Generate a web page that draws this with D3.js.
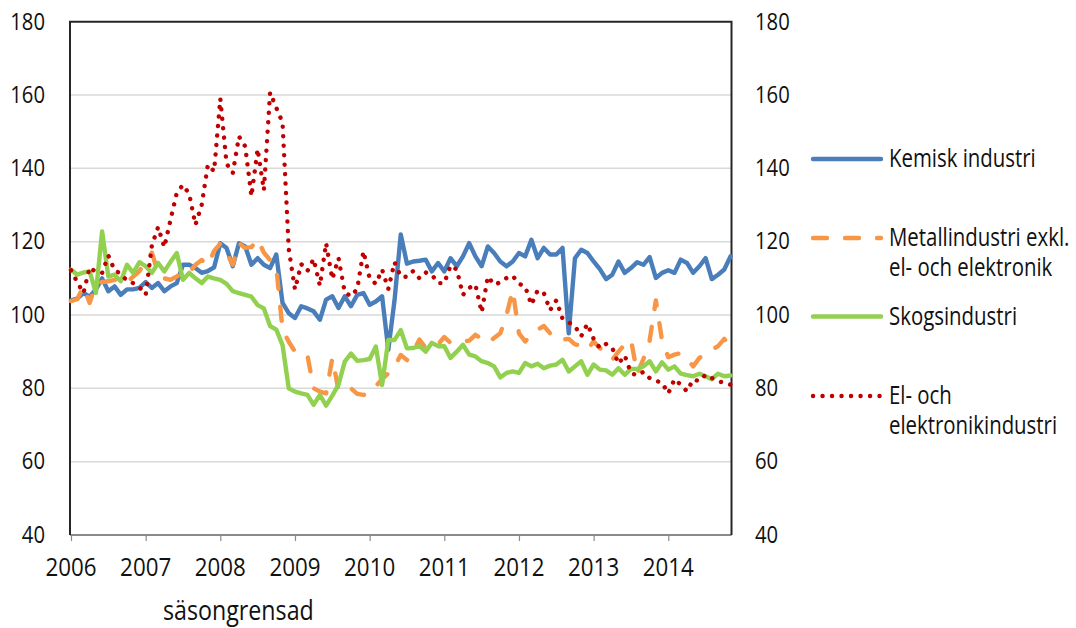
<!DOCTYPE html>
<html><head><meta charset="utf-8">
<script src="https://cdn.jsdelivr.net/npm/d3@7"></script>
<style>
body{margin:0;background:#fff}
svg text{font-family:"Open Sans",sans-serif;fill:#111}
</style>
</head><body>
<svg id="chart" width="1076" height="628"></svg>
<script>
// ---------- DATA ----------
const startYear = 2006;
const nMonths = 107; // Jan 2006 .. Nov 2014
const categories = d3.range(nMonths).map(i => `${startYear + Math.floor(i / 12)}-${String(i % 12 + 1).padStart(2, '0')}`);
const tickLabels = ['2006','2007','2008','2009','2010','2011','2012','2013','2014'];
const yTicks = [40, 60, 80, 100, 120, 140, 160, 180];
const subtitle = 'säsongrensad';

const kemisk = [104,104.5,106,105,107,110,106.5,107.8,105.5,107,
107,107.4,109,107.4,108.7,106.5,107.8,108.7,113.7,113.7,
112.8,111.5,112,113,119.6,118.3,113.3,119.6,118.7,113.7,
115.5,113.7,112.8,116.5,103.3,100.5,99.2,102.4,101.8,101,
98.7,104.2,105.1,101.9,105.1,102.4,105.5,106,102.8,103.7,
105.1,90.5,104,122,114,114.6,114.8,115.1,111.9,114.2,
111.9,115.5,113.3,116,119.6,116,113.3,118.7,116.9,114.6,
113.3,114.6,116.9,116,120.5,115.5,118.3,116.5,116.5,118.3,
95,115.5,117.8,116.9,114.6,112.5,109.8,111,114.6,111.5,
112.8,114.4,113.7,115.8,110.1,111.5,112.2,111.5,115.1,114.2,
111.5,113.3,115.5,109.8,111,112.4,116];

const metall = [103.8,104.3,107.8,103.3,108.5,109,109.2,109.6,109.8,108.9,
110.5,112,114.6,117,111.5,110,109.6,110.5,111.9,111.6,
113.7,115,113.5,117.5,119.5,117,113.7,119.6,118.3,118.5,
120.7,117,115,113,96,92.7,90,90,89,80,
79.1,78.6,88.2,79.5,80.5,80,78.5,78.2,78.6,80.6,
82.5,84.1,85.9,89.1,87.7,90,93.3,91,91.5,92,
94,92.4,92.5,92.8,93,94.6,93.5,92.4,93.7,95,
100,106.8,95,92.8,94.5,96,97,95,93.3,93.3,
93.5,92,91.7,90.5,92.8,91,89.5,87.8,90,92,
93.3,84,88,93,104,93,88.5,89.2,89.6,88,
86,88.3,89.5,90.5,91.5,93.5,91.5];

const skogs = [112.4,111,111.6,111.9,106,122.8,110.5,111,109.2,113.7,
111.5,114.4,113.3,111.5,114.2,111.9,114.5,116.9,109.6,111.5,
110,108.7,110.5,110,109.6,108.5,106.5,106,105.5,105,
102.7,101.8,97,96,91.8,80,79.1,78.6,78.2,75.5,
78.2,75.3,78,81,87.3,89.5,87.5,87.7,88,91.4,
80.9,93.2,93.2,95.9,90.9,91,91.5,90,92.4,91.5,
91.5,88.3,90,91.9,89.2,88.7,87.4,86.9,86,83,
84.2,84.6,84.2,86.9,86,86.7,85.5,86.2,86.5,87.8,
84.6,86,87.4,83.7,86.5,85.1,84.9,83.7,85.5,83.7,
85.3,85.3,86,87.4,84.6,87.1,85.1,86,84,83.6,
83.3,84,83.3,82.5,84,83.3,83.5];

const elektronik = [112.2,109,106,113,111.7,111.5,116.2,112.2,111.3,109.3,
108.7,107.6,105.5,119,124,118.5,126,133.3,135.5,133,
124.6,130,141,139.2,159,141.3,138.7,148.7,146,132.4,
145.3,134,160.7,156.5,152.5,118,107,113.9,112,115.3,
108,119.6,109.8,115.5,106.2,105.1,107.1,117.4,110,108.5,
112.4,107.1,114.4,110.5,110.4,112,110,111.6,111,108.7,
108.7,113.5,112.4,105.5,107.4,108.3,100.7,110.5,108.3,108.9,
110.1,110.7,108.5,107.8,102.8,106.7,106,101.3,104,99,
98,97,94.2,97.6,93.5,91,92.1,91,86.7,89,
84.2,83.5,84.5,82.8,82.1,81.5,78.6,82.5,81,79.2,
82.4,82,83.7,82.8,82,81.5,81];

const seriesNames = [['Kemisk industri'], ['Metallindustri exkl.', 'el- och elektronik'], ['Skogsindustri'], ['El- och', 'elektronikindustri']];
const seriesValues = [kemisk, metall, skogs, elektronik];
const seriesColors = ['#4A7EBB', '#F79646', '#92D050', '#C00000'];
const seriesDash = [null, '14,18', null, '0.1,9.4'];

// ---------- LAYOUT ----------
const svg = d3.select('#chart');
const L = 71, R = 730.5, T = 21.7, B = 535;
const x = d3.scalePoint().domain(categories).range([L, R]);
const y = d3.scaleLinear().domain([40, 180]).range([B, T]);

function label(g, px, py, str, size, anchor, sx) {
  return g.append('text')
    .attr('transform', `translate(${px},${py}) scale(${sx},1)`)
    .attr('text-anchor', anchor)
    .style('font-size', size + 'px')
    .text(str);
}

// gridlines
svg.append('g').selectAll('line').data(yTicks.filter(v => v > 40 && v < 180)).join('line')
  .attr('x1', L - 1).attr('x2', R + 1)
  .attr('y1', d => y(d)).attr('y2', d => y(d))
  .attr('stroke', '#d9d9d9').attr('stroke-width', 1.5);

// x axis (bottom, gray) with ticks at each January
const xAxis = d3.axisBottom(x)
  .tickValues(categories.filter(c => c.endsWith('-01')))
  .tickSize(6).tickFormat('');
const gx = svg.append('g').attr('transform', `translate(0,${B})`).call(xAxis);
gx.select('.domain').attr('d', `M${L - 1},0H${R + 1}`).attr('stroke', '#8a8a8a').attr('stroke-width', 2);
gx.selectAll('.tick line').attr('stroke', '#8a8a8a').attr('stroke-width', 1.2);

// frame top/left/right
svg.append('path')
  .attr('d', `M${L - 1},${B}V${T}H${R + 1}V${B}`)
  .attr('fill', 'none').attr('stroke', '#262626').attr('stroke-width', 2);

// y labels left and right
const gl = svg.append('g');
yTicks.forEach(v => {
  label(gl, 45, y(v) + 7.8, String(v), 23, 'end', 0.88);
  label(gl, 755, y(v) + 7.8, String(v), 23, 'start', 0.88);
});

// x labels
const gxl = svg.append('g');
categories.forEach(c => {
  if (c.endsWith('-01')) {
    const yr = c.slice(0, 4);
    const lab = tickLabels.find(t => t === yr);
    if (lab) label(gxl, x(c), 576, lab, 26, 'middle', 0.86);
  }
});
label(svg, 163, 620, subtitle, 27, 'start', 0.86);

// series
const line = d3.line().x((d, i) => x(categories[i])).y(d => y(d));
seriesValues.forEach((vals, k) => {
  const p = svg.append('path').datum(vals)
    .attr('d', line)
    .attr('fill', 'none')
    .attr('stroke', seriesColors[k])
    .attr('stroke-width', 4.4)
    .attr('stroke-linejoin', 'round')
    .attr('stroke-linecap', 'round');
  if (seriesDash[k]) p.attr('stroke-dasharray', seriesDash[k]);
});

// legend
const legendLineY = [159, 238, 316.5, 396];
const legendTextY = [166.5, 246, 324.5, 403.5];
const lg = svg.append('g');
seriesNames.forEach((names, k) => {
  const l = lg.append('line')
    .attr('x1', 813).attr('x2', 881)
    .attr('y1', legendLineY[k]).attr('y2', legendLineY[k])
    .attr('stroke', seriesColors[k]).attr('stroke-width', 4.4)
    .attr('stroke-linecap', 'round');
  if (seriesDash[k]) l.attr('stroke-dasharray', seriesDash[k]);
  const t = lg.append('text')
    .attr('transform', `translate(889,${legendTextY[k]}) scale(0.8,1)`)
    .style('font-size', '25.5px');
  names.forEach((n, j) => t.append('tspan').attr('x', 0).attr('dy', j === 0 ? 0 : 30.5).text(n));
});
</script>
</body></html>
